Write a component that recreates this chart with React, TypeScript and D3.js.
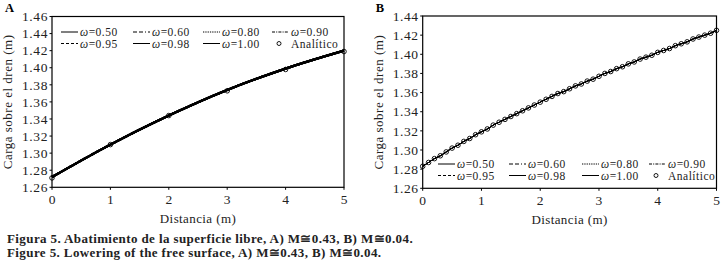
import React from "react";
import * as d3 from "d3";

// ---------- data ----------
const xTicks = [0, 1, 2, 3, 4, 5];
const yTicksA = [1.26, 1.28, 1.3, 1.32, 1.34, 1.36, 1.38, 1.4, 1.42, 1.44, 1.46];
const yTicksB = [1.26, 1.28, 1.3, 1.32, 1.34, 1.36, 1.38, 1.4, 1.42, 1.44];

// Panel A (M ≅ 0.43)
const xA = [0, 1, 2, 3, 4, 5];
const numericA = [1.272, 1.310, 1.344, 1.374, 1.399, 1.420];
const analyticA = [1.271, 1.310, 1.344, 1.373, 1.398, 1.419];

// Panel B (M ≅ 0.04)
const xB = [
  0, 0.1, 0.2, 0.3, 0.4, 0.5, 0.6, 0.7, 0.8, 0.9,
  1, 1.1, 1.2, 1.3, 1.4, 1.5, 1.6, 1.7, 1.8, 1.9,
  2, 2.1, 2.2, 2.3, 2.4, 2.5, 2.6, 2.7, 2.8, 2.9,
  3, 3.1, 3.2, 3.3, 3.4, 3.5, 3.6, 3.7, 3.8, 3.9,
  4, 4.1, 4.2, 4.3, 4.4, 4.5, 4.6, 4.7, 4.8, 4.9, 5,
];
const analyticB = [
  1.283, 1.287, 1.291, 1.294, 1.298, 1.302, 1.305, 1.309, 1.312, 1.316,
  1.319, 1.322, 1.326, 1.329, 1.332, 1.335, 1.338, 1.341, 1.344, 1.347,
  1.350, 1.353, 1.356, 1.359, 1.361, 1.364, 1.367, 1.369, 1.372, 1.374,
  1.377, 1.380, 1.382, 1.385, 1.387, 1.390, 1.392, 1.395, 1.397, 1.399,
  1.402, 1.404, 1.406, 1.409, 1.411, 1.413, 1.416, 1.418, 1.420, 1.422, 1.425,
];
const numericB = analyticB;

const omegas = ["0.50", "0.60", "0.80", "0.90", "0.95", "0.98", "1.00"];
const dashes = ["", "4,2,4,2,1,2", "1.3,1", "3,1.2,1,1.2", "3,2", "", ""];

const FONT = "'Liberation Serif', 'Times New Roman', serif";

type PanelProps = {
  label: string;
  left: number;
  right: number;
  top: number;
  bottom: number;
  yDomain: [number, number];
  yTicks: number[];
  xs: number[];
  numeric: number[];
  xsAn: number[];
  analytic: number[];
  lineWidth: number;
  legendX: number;
  legendY: number;
  legendCols: number[];
  titleX: number;
};

function Panel(p: PanelProps) {
  const x = d3.scaleLinear().domain([0, 5]).range([p.left, p.right]);
  const y = d3.scaleLinear().domain(p.yDomain).range([p.bottom, p.top]);
  const line = d3
    .line<number>()
    .x((_, i) => x(p.xs[i]))
    .y((d) => y(d))
    .curve(d3.curveMonotoneX);
  const path = line(p.numeric) || "";
  const legendItems = [
    ...omegas.map((o, i) => ({ kind: "line", text: `=${o}`, dash: dashes[i] })),
    { kind: "marker", text: "Analítico", dash: "" },
  ];
  return (
    <g>
      <text x={p.left - 47} y={12} fontFamily={FONT} fontWeight="bold" fontSize={12.5}>
        {p.label}
      </text>
      <rect
        x={p.left}
        y={p.top}
        width={p.right - p.left}
        height={p.bottom - p.top}
        fill="none"
        stroke="#000"
        strokeWidth={1.2}
      />
      {p.yTicks.map((t) => (
        <g key={t}>
          <line x1={p.left - 2.5} x2={p.left} y1={y(t)} y2={y(t)} stroke="#000" strokeWidth={1} />
          <text
            x={p.left - 4}
            y={y(t)}
            dy="0.35em"
            textAnchor="end"
            fontFamily={FONT}
            fontSize={13.5}
            letterSpacing={0.6}
            fill="#222"
          >
            {t.toFixed(2)}
          </text>
        </g>
      ))}
      {xTicks.map((t) => (
        <g key={t}>
          <line x1={x(t)} x2={x(t)} y1={p.bottom} y2={p.bottom + 2.5} stroke="#000" strokeWidth={1} />
          <text x={x(t)} y={p.bottom + 17} textAnchor="middle" fontFamily={FONT} fontSize={13.5} fill="#222">
            {t}
          </text>
        </g>
      ))}
      <text
        x={(p.left + p.right) / 2}
        y={p.bottom + 35.5}
        textAnchor="middle"
        fontFamily={FONT}
        fontSize={13}
        letterSpacing={0.4}
        fill="#222"
      >
        Distancia (m)
      </text>
      <text
        transform={`translate(${p.titleX},${(p.top + p.bottom) / 2}) rotate(-90)`}
        textAnchor="middle"
        fontFamily={FONT}
        fontSize={13}
        letterSpacing={0.5}
        fill="#222"
      >
        Carga sobre el dren (m)
      </text>
      {omegas.map((o, i) => (
        <path
          key={o}
          d={path}
          fill="none"
          stroke="#000"
          strokeWidth={p.lineWidth}
          strokeDasharray={dashes[i] || undefined}
        />
      ))}
      {p.analytic.map((v, i) => (
        <circle key={i} cx={x(p.xsAn[i])} cy={y(v)} r={2.3} fill="none" stroke="#000" strokeWidth={0.9} />
      ))}
      {legendItems.map((it, i) => {
        const col = i % 4;
        const row = Math.floor(i / 4);
        const lx = p.legendX + p.legendCols[col];
        const ly = p.legendY + row * 11.5;
        return (
          <g key={i}>
            {it.kind === "line" ? (
              <line
                x1={lx - 19}
                x2={lx - 2}
                y1={ly}
                y2={ly}
                stroke="#000"
                strokeWidth={1}
                strokeDasharray={it.dash || undefined}
              />
            ) : (
              <circle cx={lx - 12} cy={ly} r={2} fill="none" stroke="#000" strokeWidth={0.9} />
            )}
            <text x={lx} y={ly} dy="0.35em" fontFamily={FONT} fontSize={11.5} letterSpacing={0.5} fill="#222">
              {it.kind === "line" ? (
                <>
                  <tspan fontStyle="italic">ω</tspan>
                  {it.text}
                </>
              ) : (
                it.text
              )}
            </text>
          </g>
        );
      })}
    </g>
  );
}

export default function App() {
  return (
    <svg width={722} height={277} style={{ position: "absolute", left: 0, top: 0, background: "#fff" }}>
      <rect width={722} height={277} fill="#fff" />
      <Panel
        label="A"
        left={52}
        right={344}
        top={16.5}
        bottom={187.3}
        yDomain={[1.26, 1.46]}
        yTicks={yTicksA}
        xs={xA}
        numeric={numericA}
        xsAn={xA}
        analytic={analyticA}
        lineWidth={2.2}
        legendX={80}
        legendY={32}
        legendCols={[0, 72, 142, 211]}
        titleX={11.5}
      />
      <Panel
        label="B"
        left={422.7}
        right={716.5}
        top={16}
        bottom={188.3}
        yDomain={[1.26, 1.44]}
        yTicks={yTicksB}
        xs={xB}
        numeric={numericB}
        xsAn={xB}
        analytic={analyticB}
        lineWidth={1}
        legendX={457}
        legendY={164}
        legendCols={[0, 71, 144, 211]}
        titleX={383}
      />
      <text x={7} y={242.5} fontFamily={FONT} fontWeight="bold" fontSize={13} letterSpacing={0.4} fill="#222">
        Figura 5. Abatimiento de la superficie libre, A) M≅0.43, B) M≅0.04.
      </text>
      <text x={7} y={256.5} fontFamily={FONT} fontWeight="bold" fontSize={13} letterSpacing={0.4} fill="#222">
        Figure 5. Lowering of the free surface, A) M≅0.43, B) M≅0.04.
      </text>
    </svg>
  );
}
